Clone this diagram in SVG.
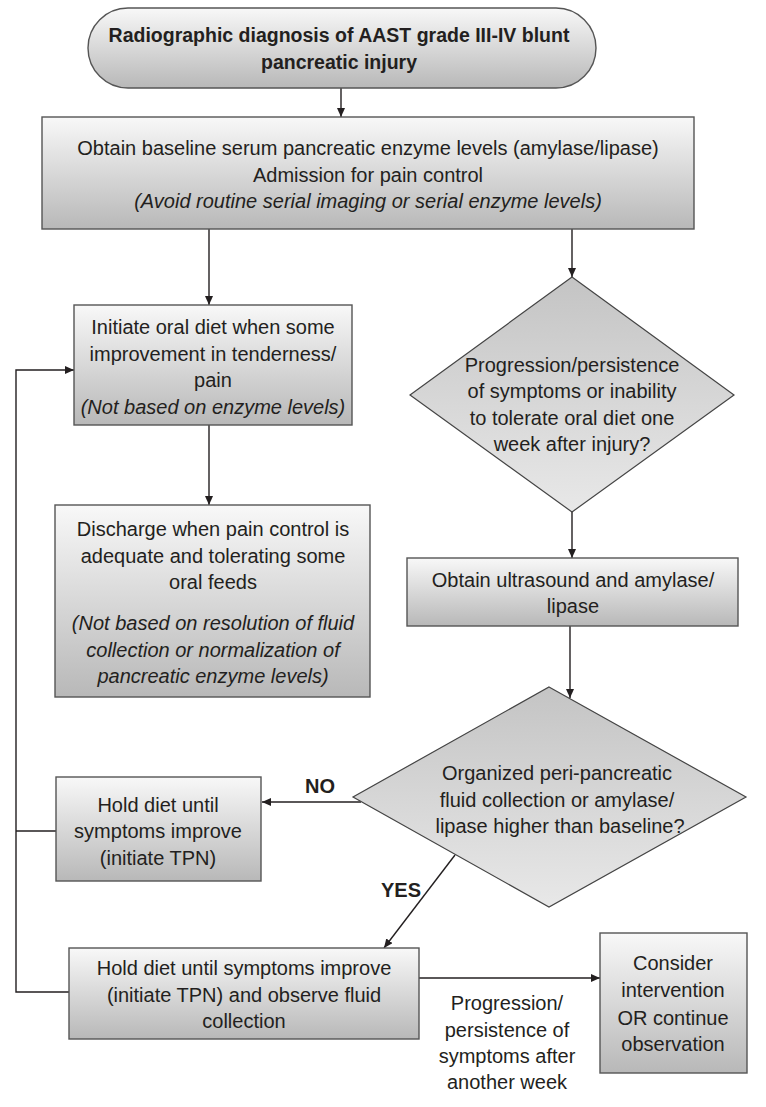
<svg xmlns="http://www.w3.org/2000/svg" width="766" height="1107" viewBox="0 0 766 1107">
<defs>
<linearGradient id="gBox" x1="0" y1="0" x2="0" y2="1">
<stop offset="0" stop-color="#f8f8f8"/>
<stop offset="1" stop-color="#b8b8b8"/>
</linearGradient>
<linearGradient id="gDia" x1="0" y1="0" x2="0" y2="1">
<stop offset="0" stop-color="#c4c4c4"/>
<stop offset="1" stop-color="#e8e8e8"/>
</linearGradient>
<marker id="arr" markerUnits="userSpaceOnUse" markerWidth="9" markerHeight="8" refX="9" refY="4" orient="auto">
<path d="M0,0 L9,4 L0,8 z" fill="#231f20"/>
</marker>
<style>
.box{fill:url(#gBox);stroke:#555;stroke-width:1.4}
.dia{fill:url(#gDia);stroke:#444;stroke-width:1.2}
.t{font-family:"Liberation Sans",Arial,sans-serif;font-size:20px;fill:#231f20;text-anchor:middle}
.i{font-style:italic}
.b{font-weight:bold}
.ln{fill:none;stroke:#231f20;stroke-width:1.4}
</style>
</defs>

<g id="connectors">
<path class="ln" d="M341,88 V117" marker-end="url(#arr)"/>
<path class="ln" d="M209,229 V305" marker-end="url(#arr)"/>
<path class="ln" d="M572,229 V277" marker-end="url(#arr)"/>
<path class="ln" d="M209,425 V505" marker-end="url(#arr)"/>
<path class="ln" d="M572,512 V558" marker-end="url(#arr)"/>
<path class="ln" d="M570,626 V698" marker-end="url(#arr)"/>
<path class="ln" d="M361,802 H262" marker-end="url(#arr)"/>
<path class="ln" d="M455,855 L384,948" marker-end="url(#arr)"/>
<path class="ln" d="M419,978 H600" marker-end="url(#arr)"/>
<path class="ln" d="M69,992 H16 V370 H74" marker-end="url(#arr)"/>
<path class="ln" d="M56,831 H16"/>
<text class="t b" x="320" y="793">NO</text>
<text class="t b" x="401" y="897">YES</text>
<text class="t" x="507" y="1010">Progression/</text>
<text class="t" x="507" y="1037">persistence of</text>
<text class="t" x="507" y="1063">symptoms after</text>
<text class="t" x="507" y="1089">another week</text>
</g>

<g id="n-start">
<rect class="box" x="88" y="8" width="508" height="80" rx="40" ry="40"/>
<text class="t b" style="font-size:19.5px" x="339" y="42">Radiographic diagnosis of AAST grade III-IV blunt</text>
<text class="t b" style="font-size:19.5px" x="339" y="69">pancreatic injury</text>
</g>

<g id="n-baseline">
<rect class="box" x="42" y="117" width="652" height="112"/>
<text class="t" x="368" y="155">Obtain baseline serum pancreatic enzyme levels (amylase/lipase)</text>
<text class="t" x="368" y="182">Admission for pain control</text>
<text class="t i" x="368" y="208">(Avoid routine serial imaging or serial enzyme levels)</text>
</g>

<g id="n-oral">
<rect class="box" x="74" y="305" width="278" height="120"/>
<text class="t" x="213" y="334">Initiate oral diet when some</text>
<text class="t" x="213" y="361">improvement in tenderness/</text>
<text class="t" x="213" y="387">pain</text>
<text class="t i" x="213" y="414">(Not based on enzyme levels)</text>
</g>

<g id="n-progress">
<polygon class="dia" points="572,277 734,395 572,512 410,395"/>
<text class="t" x="572" y="372">Progression/persistence</text>
<text class="t" x="572" y="398">of symptoms or inability</text>
<text class="t" x="572" y="425">to tolerate oral diet one</text>
<text class="t" x="572" y="451">week after injury?</text>
</g>

<g id="n-discharge">
<rect class="box" x="55" y="505" width="315" height="192"/>
<text class="t" x="213" y="536">Discharge when pain control is</text>
<text class="t" x="213" y="563">adequate and tolerating some</text>
<text class="t" x="213" y="589">oral feeds</text>
<text class="t i" x="213" y="630">(Not based on resolution of fluid</text>
<text class="t i" x="213" y="657">collection or normalization of</text>
<text class="t i" x="213" y="683">pancreatic enzyme levels)</text>
</g>

<g id="n-ultrasound">
<rect class="box" x="407" y="558" width="331" height="68"/>
<text class="t" x="573" y="587">Obtain ultrasound and amylase/</text>
<text class="t" x="573" y="613">lipase</text>
</g>

<g id="n-organized">
<polygon class="dia" points="549,687 746,797 549,907 353,797"/>
<text class="t" x="557" y="780">Organized peri-pancreatic</text>
<text class="t" x="557" y="807">fluid collection or amylase/</text>
<text class="t" x="560" y="833">lipase higher than baseline?</text>
</g>

<g id="n-hold1">
<rect class="box" x="56" y="777" width="205" height="104"/>
<text class="t" x="158" y="812">Hold diet until</text>
<text class="t" x="158" y="838">symptoms improve</text>
<text class="t" x="158" y="865">(initiate TPN)</text>
</g>

<g id="n-hold2">
<rect class="box" x="69" y="948" width="350" height="91"/>
<text class="t" x="244" y="975">Hold diet until symptoms improve</text>
<text class="t" x="244" y="1002">(initiate TPN) and observe fluid</text>
<text class="t" x="244" y="1028">collection</text>
</g>

<g id="n-consider">
<rect class="box" x="600" y="933" width="147" height="140"/>
<text class="t" x="673" y="970">Consider</text>
<text class="t" x="673" y="997">intervention</text>
<text class="t" x="673" y="1025">OR continue</text>
<text class="t" x="673" y="1051">observation</text>
</g>
</svg>
